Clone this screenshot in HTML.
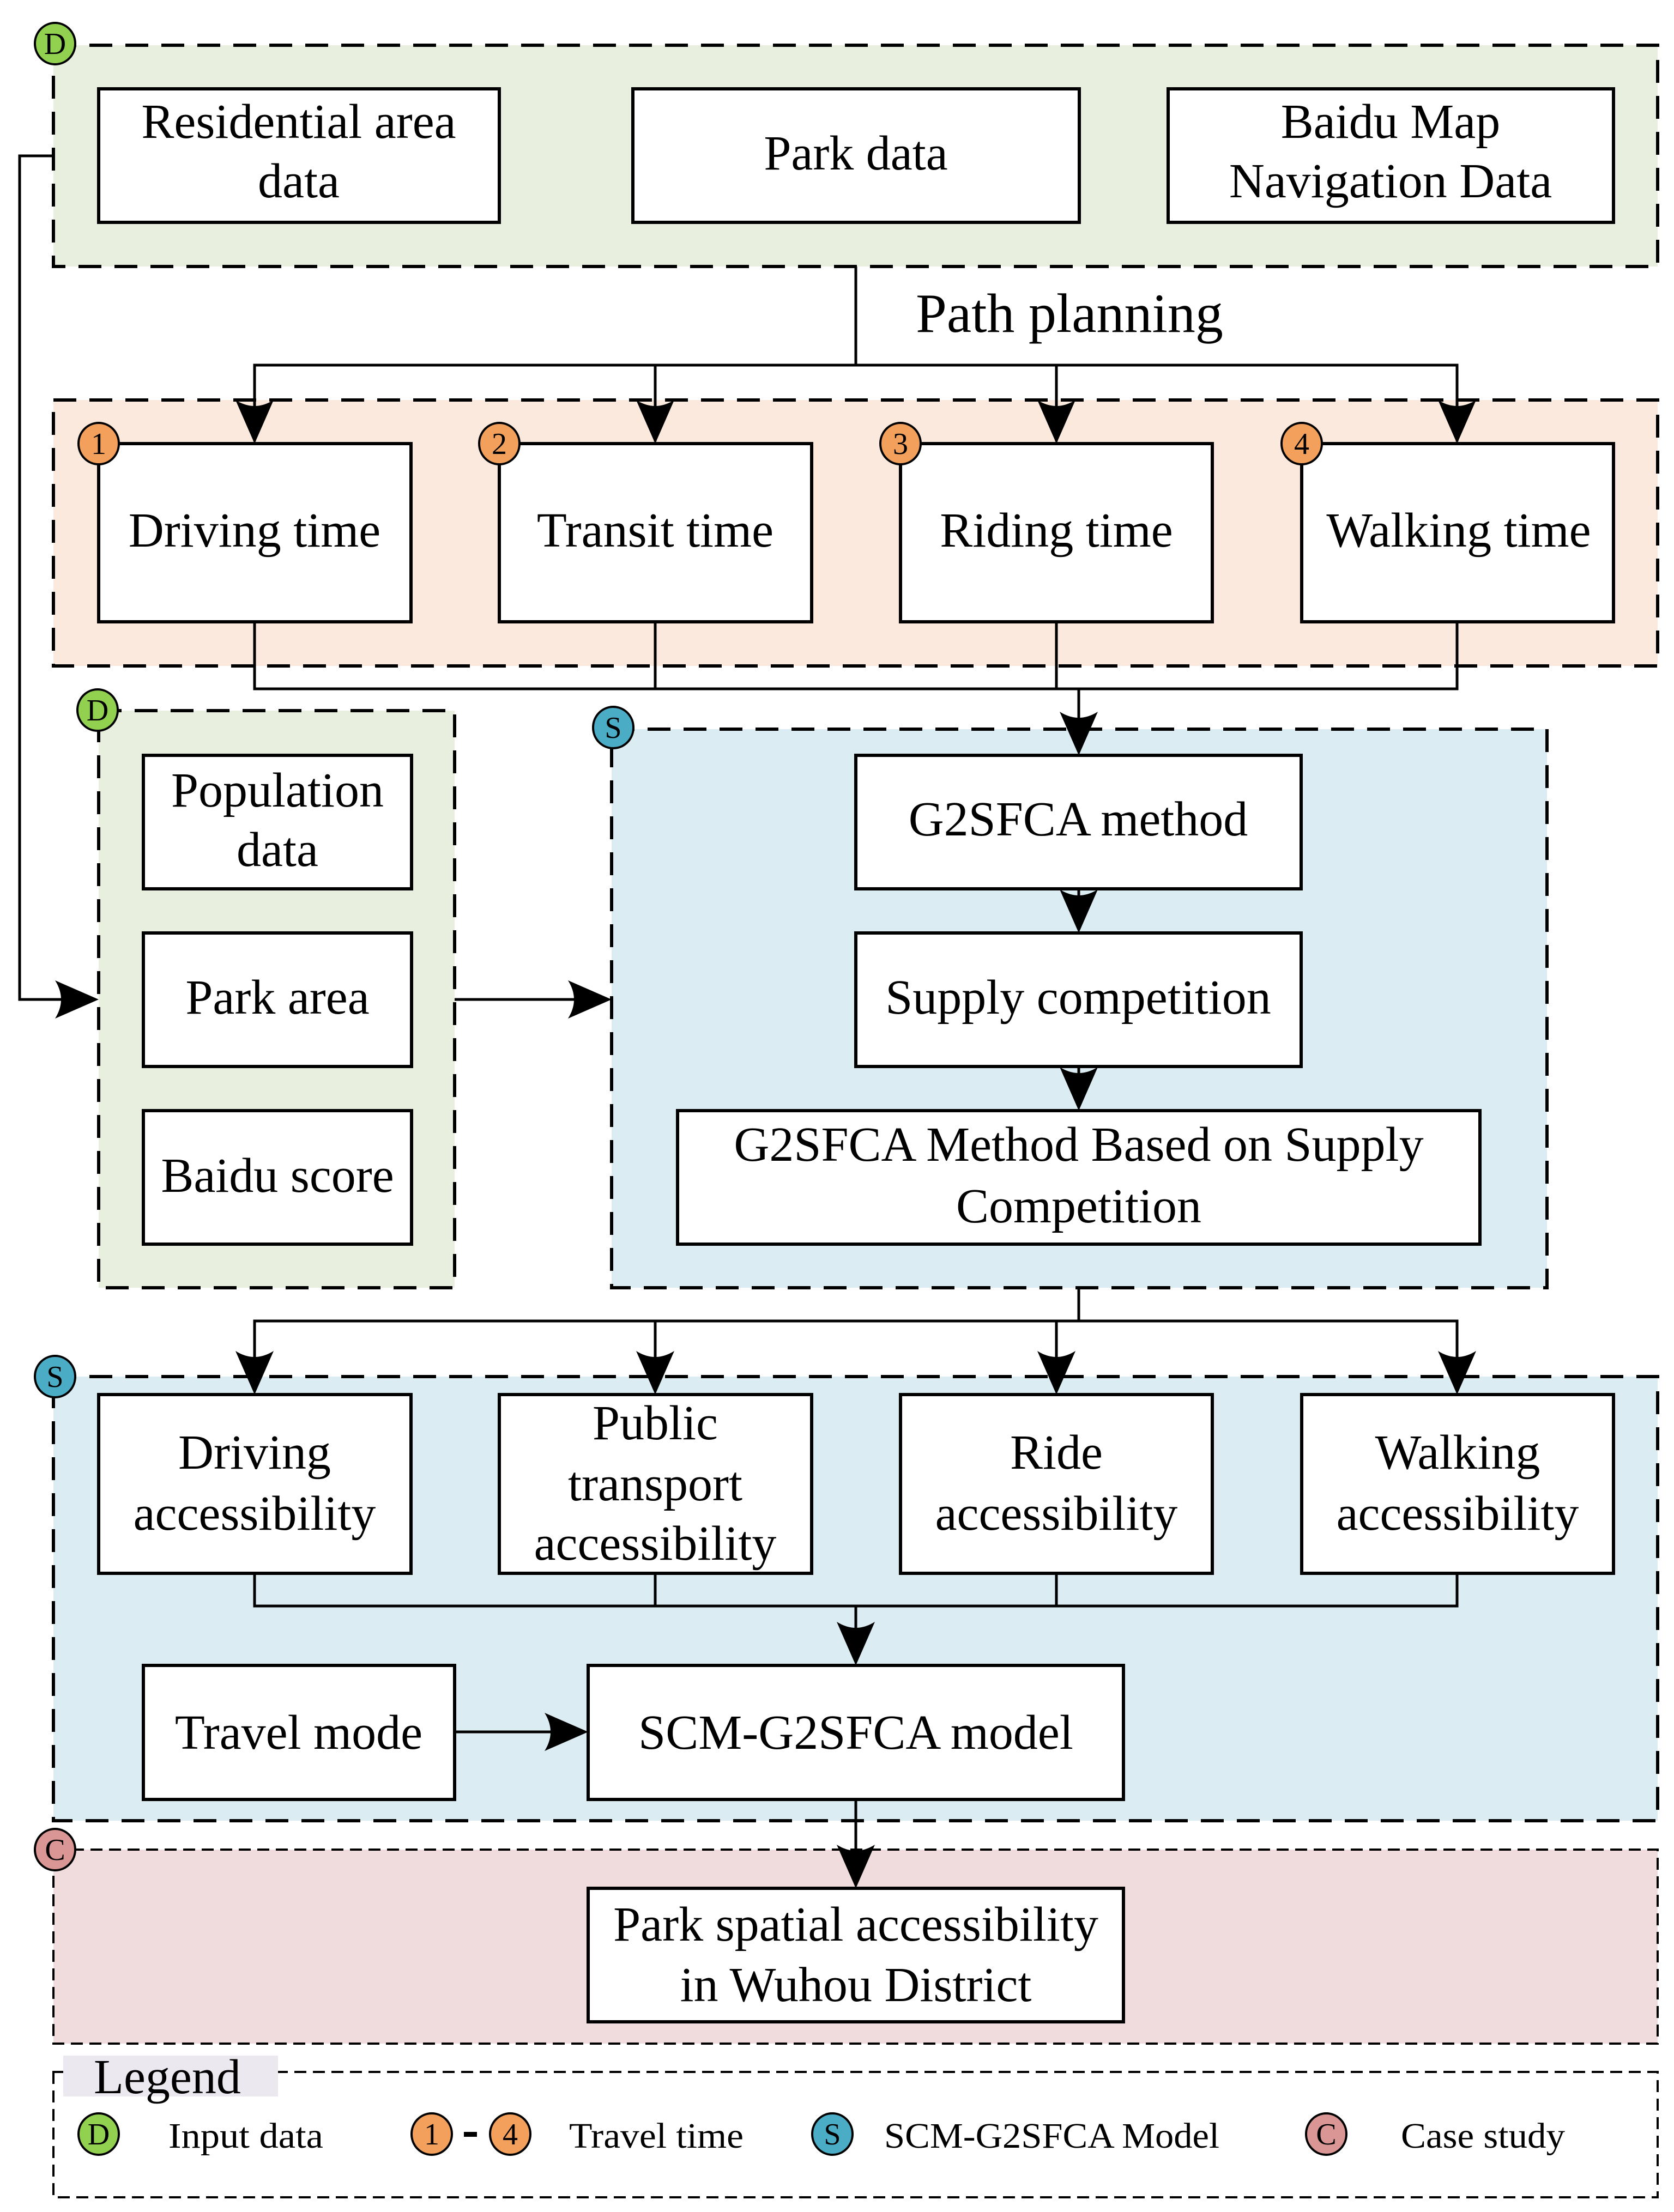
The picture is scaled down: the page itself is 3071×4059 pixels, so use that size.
<!DOCTYPE html>
<html><head><meta charset="utf-8"><style>
html,body{margin:0;padding:0;background:#fff}
svg{display:block}
text{font-family:"Liberation Serif",serif;fill:#000}
</style></head><body>
<svg width="3071" height="4059" viewBox="0 0 3071 4059" xmlns="http://www.w3.org/2000/svg">
<defs>
<path id="ad" d="M0,0 L-35,-80 Q0,-58 35,-80 Z" fill="#000"/>
</defs>

<!-- group backgrounds -->
<g stroke="#000" stroke-width="6" stroke-dasharray="42,24">
<rect x="98" y="83" width="2943" height="406" fill="#e8efdf"/>
<rect x="98" y="734" width="2943" height="488" fill="#fbe9dd"/>
<rect x="181" y="1304" width="653" height="1059" fill="#e8efdf"/>
<rect x="1122" y="1338" width="1716" height="1025" fill="#dbedf3"/>
<rect x="98" y="2526" width="2943" height="815" fill="#dbedf3"/>
</g>
<g stroke="#000" stroke-width="4" stroke-dasharray="22,12">
<rect x="98" y="3394" width="2943" height="356" fill="#f0dcdc"/>
<rect x="98" y="3802" width="2943" height="230" fill="#fff"/>
</g>
<rect x="116" y="3772" width="394" height="75" fill="#ebe8f0"/>
<text x="172" y="3841" font-size="90">Legend</text>

<!-- connectors -->
<g fill="none" stroke="#000" stroke-width="5">
<polyline points="1570,489 1570,670"/>
<polyline points="467,810 467,670 2673,670 2673,810"/>
<line x1="1202" y1="670" x2="1202" y2="810"/>
<line x1="1938" y1="670" x2="1938" y2="810"/>
<polyline points="467,1141 467,1264 2673,1264 2673,1141"/>
<line x1="1202" y1="1141" x2="1202" y2="1264"/>
<line x1="1938" y1="1141" x2="1938" y2="1264"/>
<line x1="1979" y1="1264" x2="1979" y2="1380"/>
<polyline points="98,286 36,286 36,1834 175,1834"/>
<line x1="834" y1="1834" x2="1115" y2="1834"/>
<line x1="1979" y1="1631" x2="1979" y2="1705"/>
<line x1="1979" y1="1957" x2="1979" y2="2030"/>
<polyline points="1979,2363 1979,2424"/>
<polyline points="467,2550 467,2424 2673,2424 2673,2550"/>
<line x1="1202" y1="2424" x2="1202" y2="2550"/>
<line x1="1938" y1="2424" x2="1938" y2="2550"/>
<polyline points="467,2887 467,2947 2673,2947 2673,2887"/>
<line x1="1202" y1="2887" x2="1202" y2="2947"/>
<line x1="1938" y1="2887" x2="1938" y2="2947"/>
<line x1="1570" y1="2947" x2="1570" y2="3050"/>
<line x1="834" y1="3178" x2="1072" y2="3178"/>
<line x1="1570" y1="3302" x2="1570" y2="3460"/>
</g>
<!-- arrowheads -->
<use href="#ad" x="467" y="814"/>
<use href="#ad" x="1202" y="814"/>
<use href="#ad" x="1938" y="814"/>
<use href="#ad" x="2673" y="814"/>
<use href="#ad" x="1979" y="1386"/>
<use href="#ad" x="1979" y="1712"/>
<use href="#ad" x="1979" y="2038"/>
<use href="#ad" x="467" y="2559"/>
<use href="#ad" x="1202" y="2559"/>
<use href="#ad" x="1938" y="2559"/>
<use href="#ad" x="2673" y="2559"/>
<use href="#ad" x="1570" y="3056"/>
<use href="#ad" x="1570" y="3465"/>
<use href="#ad" transform="translate(181,1834) rotate(-90)"/>
<use href="#ad" transform="translate(1122,1834) rotate(-90)"/>
<use href="#ad" transform="translate(1079,3178) rotate(-90)"/>

<!-- boxes -->
<g fill="#fff" stroke="#000" stroke-width="6">
<rect x="181" y="163" width="735" height="245"/>
<rect x="1161" y="163" width="819" height="245"/>
<rect x="2143" y="163" width="817" height="245"/>
<rect x="181" y="814" width="573" height="327"/>
<rect x="916" y="814" width="573" height="327"/>
<rect x="1652" y="814" width="572" height="327"/>
<rect x="2388" y="814" width="572" height="327"/>
<rect x="263" y="1386" width="492" height="245"/>
<rect x="263" y="1712" width="492" height="245"/>
<rect x="263" y="2038" width="492" height="245"/>
<rect x="1570" y="1386" width="817" height="245"/>
<rect x="1570" y="1712" width="817" height="245"/>
<rect x="1243" y="2038" width="1472" height="245"/>
<rect x="181" y="2559" width="573" height="328"/>
<rect x="916" y="2559" width="573" height="328"/>
<rect x="1652" y="2559" width="572" height="328"/>
<rect x="2388" y="2559" width="572" height="328"/>
<rect x="263" y="3056" width="571" height="246"/>
<rect x="1079" y="3056" width="982" height="246"/>
<rect x="1079" y="3465" width="982" height="245"/>
</g>

<g font-size="90" text-anchor="middle">
<text x="548" y="253">Residential area</text><text x="548" y="362">data</text>
<text x="1570" y="311">Park data</text>
<text x="2551" y="253">Baidu Map</text><text x="2551" y="362">Navigation Data</text>
<text x="1962" y="609" font-size="102">Path planning</text>
<text x="467" y="1003">Driving time</text>
<text x="1202" y="1003">Transit time</text>
<text x="1938" y="1003">Riding time</text>
<text x="2676" y="1003">Walking time</text>
<text x="509" y="1480">Population</text><text x="509" y="1589">data</text>
<text x="509" y="1860">Park area</text>
<text x="509" y="2187">Baidu score</text>
<text x="1978" y="1533">G2SFCA method</text>
<text x="1978" y="1860">Supply competition</text>
<text x="1979" y="2130">G2SFCA Method Based on Supply</text><text x="1979" y="2243">Competition</text>
<text x="467" y="2695">Driving</text><text x="467" y="2807">accessibility</text>
<text x="1202" y="2641">Public</text><text x="1202" y="2753">transport</text><text x="1202" y="2862">accessibility</text>
<text x="1938" y="2695">Ride</text><text x="1938" y="2807">accessibility</text>
<text x="2674" y="2695">Walking</text><text x="2674" y="2807">accessibility</text>
<text x="548" y="3209">Travel mode</text>
<text x="1570" y="3209">SCM-G2SFCA model</text>
<text x="1570" y="3561">Park spatial accessibility</text><text x="1570" y="3672">in Wuhou District</text>
</g>

<!-- badges -->
<g stroke="#000" stroke-width="4">
<ellipse cx="101" cy="80" rx="37" ry="38" fill="#92d050"/>
<ellipse cx="181" cy="814" rx="37" ry="38" fill="#f2a05c"/>
<ellipse cx="916" cy="814" rx="37" ry="38" fill="#f2a05c"/>
<ellipse cx="1652" cy="814" rx="37" ry="38" fill="#f2a05c"/>
<ellipse cx="2388" cy="814" rx="37" ry="38" fill="#f2a05c"/>
<ellipse cx="179" cy="1303" rx="37" ry="38" fill="#92d050"/>
<ellipse cx="1125" cy="1335" rx="37" ry="38" fill="#4bacc6"/>
<ellipse cx="101" cy="2526" rx="37" ry="38" fill="#4bacc6"/>
<ellipse cx="101" cy="3394" rx="37" ry="38" fill="#d99694"/>
<ellipse cx="181" cy="3916" rx="37" ry="38" fill="#92d050"/>
<ellipse cx="792" cy="3916" rx="37" ry="38" fill="#f2a05c"/>
<ellipse cx="936" cy="3916" rx="37" ry="38" fill="#f2a05c"/>
<ellipse cx="1527" cy="3916" rx="37" ry="38" fill="#4bacc6"/>
<ellipse cx="2433" cy="3916" rx="37" ry="38" fill="#d99694"/>
</g>
<g font-size="56" text-anchor="middle">
<text x="101" y="99">D</text>
<text x="181" y="833">1</text><text x="916" y="833">2</text><text x="1652" y="833">3</text><text x="2388" y="833">4</text>
<text x="179" y="1322">D</text><text x="1125" y="1354">S</text><text x="101" y="2545">S</text><text x="101" y="3413">C</text>
<text x="181" y="3935">D</text><text x="792" y="3935">1</text><text x="936" y="3935">4</text><text x="1527" y="3935">S</text><text x="2433" y="3935">C</text>
</g>
<rect x="851" y="3912" width="24" height="9" fill="#000"/>
<g font-size="66">
<text x="309" y="3941" textLength="284" lengthAdjust="spacingAndGlyphs">Input data</text>
<text x="1044" y="3941" textLength="320" lengthAdjust="spacingAndGlyphs">Travel time</text>
<text x="1622" y="3941" textLength="615" lengthAdjust="spacingAndGlyphs">SCM-G2SFCA Model</text>
<text x="2570" y="3941" textLength="301" lengthAdjust="spacingAndGlyphs">Case study</text>
</g>
</svg>
</body></html>
